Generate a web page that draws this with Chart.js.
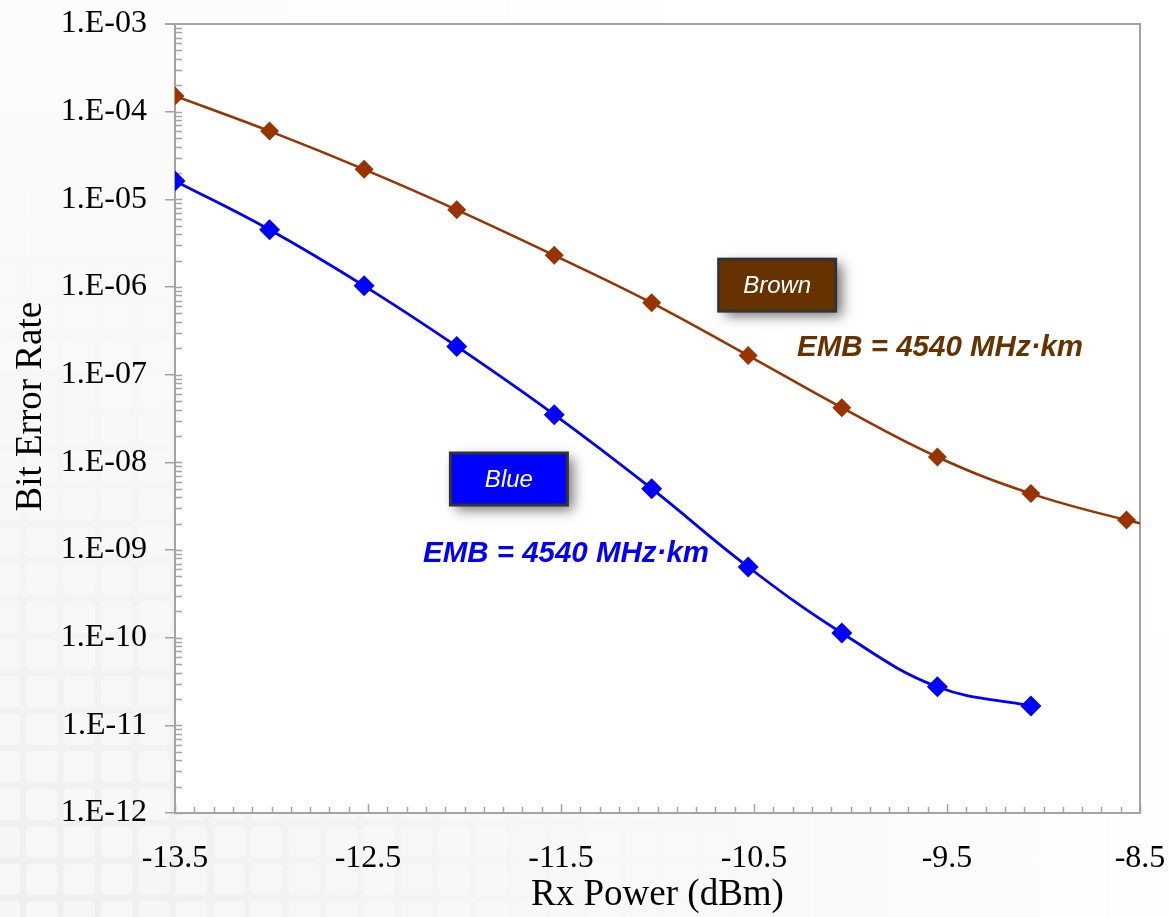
<!DOCTYPE html>
<html>
<head>
<meta charset="utf-8">
<title>Bit Error Rate vs Rx Power</title>
<script src="https://cdn.jsdelivr.net/npm/chart.js@4.4.1/dist/chart.umd.min.js"></script>
<style>
  html, body { margin: 0; padding: 0; background: #fff; }
  #wrap { width: 1169px; height: 917px; position: relative; }
</style>
</head>
<body>
<div id="wrap"><canvas id="berChart"></canvas></div>
<script>
// received power at each measurement step (dBm)
const rxPower = [-13.5, -13.01, -12.52, -12.04, -11.535, -11.03, -10.53, -10.045, -9.55, -9.065, -8.57, -8.09];

// bit error rates, brown and blue fibre
const berBrown = [1.51e-4, 6.0e-5, 2.2e-5, 7.6e-6, 2.3e-6, 6.6e-7, 1.65e-7, 4.2e-8, 1.15e-8, 4.4e-9, 2.2e-9, 1.3e-9];
const berBlue = [1.62e-5, 4.5e-6, 1.03e-6, 2.1e-7, 3.5e-8, 5.0e-9, 6.4e-10, 1.13e-10, 2.75e-11, 1.66e-11];

const xTickValues = [-13.5, -12.5, -11.5, -10.5, -9.5, -8.5];
const yTickExponents = [-12, -11, -10, -9, -8, -7, -6, -5, -4, -3];

const fiberNames = ['Brown', 'Blue'];
const embText = ['EMB = 4540 MHz\u00B7km', 'EMB = 4540 MHz\u00B7km'];
const yTitle = 'Bit Error Rate';

const SERIF = "'Liberation Serif', 'Times New Roman', serif";
const SANS = "'Liberation Sans', Arial, sans-serif";
const AXIS_GREY = '#a3a3a3';

function toPoints(ys) {
    return ys.map((y, i) => ({ x: rxPower[i], y: y }));
}

function expLabel(v) {
    const e = Math.round(Math.log10(v));
    const n = Math.abs(e);
    return '1.E' + (e < 0 ? '-' : '+') + (n < 10 ? '0' + n : n);
}

// faint tiled paper behind the plot, fading out towards the top right
const paperBackground = {
    id: 'paperBackground',
    beforeDraw(chart) {
        const { ctx, width, height, chartArea } = chart;
        ctx.save();
        ctx.fillStyle = '#ffffff';
        ctx.fillRect(0, 0, width, height);
        const cell = 37.5;
        const ox = 23 - cell, oy = 35.5 - cell;
        for (let x = ox; x < width; x += cell) {
            for (let y = oy; y < height; y += cell) {
                const dx = (x + cell / 2) / width;
                const dy = 1 - (y + cell / 2) / height;
                const f = Math.max(0, 1 - Math.sqrt(dx * dx * 0.9 + dy * dy * 0.7));
                if (f <= 0) continue;
                ctx.fillStyle = 'rgba(0,0,0,' + (0.065 * f).toFixed(3) + ')';
                ctx.fillRect(x, y, cell, cell);
                ctx.fillStyle = 'rgba(255,255,255,' + (0.5 * f).toFixed(3) + ')';
                ctx.beginPath();
                ctx.roundRect(x + 3, y + 3, cell - 6, cell - 6, 5);
                ctx.fill();
            }
        }
        ctx.fillStyle = '#ffffff';
        ctx.fillRect(chartArea.left, chartArea.top, chartArea.right - chartArea.left, chartArea.bottom - chartArea.top);
        ctx.restore();
    }
};

// frame on top/right, the small inward tick marks and the y title
const axisFrame = {
    id: 'axisFrame',
    beforeDatasetsDraw(chart) {
        const { ctx, chartArea, scales } = chart;
        const xs = scales.x, ys = scales.y;
        ctx.save();
        ctx.strokeStyle = AXIS_GREY;
        ctx.lineWidth = 2;
        ctx.beginPath();
        ctx.moveTo(chartArea.left - 10, chartArea.top);
        ctx.lineTo(chartArea.right, chartArea.top);
        ctx.lineTo(chartArea.right, chartArea.bottom);
        ctx.stroke();

        ctx.lineWidth = 1.5;
        ctx.beginPath();
        for (let e = -12; e < -3; e++) {
            for (let m = 1; m <= 9; m++) {
                const py = Math.round(ys.getPixelForValue(m * Math.pow(10, e))) + 0.5;
                ctx.moveTo(chartArea.left, py);
                ctx.lineTo(chartArea.left + 7, py);
            }
        }
        for (let k = 0; k <= 50; k++) {
            const v = -13.5 + k * 0.1;
            const px = Math.round(xs.getPixelForValue(v)) + 0.5;
            const len = k % 10 === 0 ? 9 : 6;
            ctx.moveTo(px, chartArea.bottom);
            ctx.lineTo(px, chartArea.bottom - len);
        }
        ctx.stroke();

        // vertical axis title, sitting a little above the middle
        ctx.translate(31, chartArea.top + (chartArea.bottom - chartArea.top) * 0.485);
        ctx.rotate(-Math.PI / 2);
        ctx.fillStyle = '#000';
        ctx.font = '37px ' + SERIF;
        ctx.textAlign = 'center';
        ctx.textBaseline = 'middle';
        ctx.fillText(yTitle, 0, 0);
        ctx.restore();
    }
};

// fibre colour tags and EMB notes, anchored in data coordinates
const fiberTags = {
    id: 'fiberTags',
    afterDraw(chart) {
        const { ctx, scales } = chart;
        const tags = [
            { name: fiberNames[0], fill: '#663300', cx: -10.38, cy: 1.05e-6, ex: -9.536, ey: 2.07e-7, textColor: '#663300' },
            { name: fiberNames[1], fill: '#0000ff', cx: -11.77, cy: 6.45e-9, ex: -11.474, ey: 9.25e-10, textColor: '#0000ff' }
        ];
        tags.forEach((t, i) => {
            const bx = scales.x.getPixelForValue(t.cx);
            const by = scales.y.getPixelForValue(t.cy);
            const w = 117, h = 52;
            ctx.save();
            ctx.shadowColor = 'rgba(0,0,0,0.55)';
            ctx.shadowBlur = 12;
            ctx.shadowOffsetX = 6;
            ctx.shadowOffsetY = 5;
            ctx.fillStyle = t.fill;
            ctx.fillRect(bx - w / 2, by - h / 2, w, h);
            ctx.restore();

            ctx.save();
            ctx.strokeStyle = '#333333';
            ctx.lineWidth = 3;
            ctx.strokeRect(bx - w / 2, by - h / 2, w, h);
            ctx.fillStyle = '#ffffff';
            ctx.font = 'italic 24px ' + SANS;
            ctx.textAlign = 'center';
            ctx.textBaseline = 'middle';
            ctx.fillText(t.name, bx, by + 1);

            const ex = scales.x.getPixelForValue(t.ex);
            const ey = scales.y.getPixelForValue(t.ey);
            ctx.fillStyle = t.textColor;
            ctx.font = 'italic bold 29.5px ' + SANS;
            ctx.fillText(embText[i], ex, ey + 1);
            ctx.restore();
        });
    }
};

new Chart(document.getElementById('berChart'), {
    type: 'line',
    data: {
        datasets: [
            {
                label: fiberNames[0],
                data: toPoints(berBrown),
                borderColor: '#993300',
                backgroundColor: '#993300',
                borderWidth: 2.5,
                pointStyle: 'rectRot',
                pointRadius: 9.5,
                pointBorderWidth: 0,
                tension: 0.4
            },
            {
                label: fiberNames[1],
                data: toPoints(berBlue),
                borderColor: '#0000ff',
                backgroundColor: '#0000ff',
                borderWidth: 2.8,
                pointStyle: 'rectRot',
                pointRadius: 10.5,
                pointBorderWidth: 0,
                tension: 0.4
            }
        ]
    },
    options: {
        responsive: true,
        maintainAspectRatio: false,
        animation: false,
        layout: { padding: { top: 24, right: 29, left: 0, bottom: 0 } },
        plugins: {
            legend: { display: false },
            tooltip: { enabled: false }
        },
        scales: {
            x: {
                type: 'linear',
                min: -13.5,
                max: -8.5,
                afterBuildTicks: (scale) => { scale.ticks = xTickValues.map(v => ({ value: v })); },
                afterFit: (scale) => {
                    scale.height = 104;
                    scale.paddingLeft = 0;
                    scale.paddingRight = 0;
                },
                grid: { drawOnChartArea: false, drawTicks: false },
                border: { color: AXIS_GREY, width: 2 },
                ticks: {
                    color: '#000',
                    padding: 26,
                    font: { family: SERIF, size: 32 },
                    callback: (v) => String(v)
                },
                title: {
                    display: true,
                    text: 'Rx Power (dBm)',
                    color: '#000',
                    font: { family: SERIF, size: 37 },
                    padding: { top: 0, bottom: 0 }
                }
            },
            y: {
                type: 'logarithmic',
                min: 1e-12,
                max: 1e-3,
                afterBuildTicks: (scale) => { scale.ticks = yTickExponents.map(e => ({ value: Math.pow(10, e) })); },
                afterFit: (scale) => {
                    scale.width = 175;
                    scale.paddingTop = 0;
                    scale.paddingBottom = 0;
                },
                grid: { drawOnChartArea: false, drawTicks: true, tickLength: 10, color: AXIS_GREY, lineWidth: 1.5 },
                border: { color: AXIS_GREY, width: 2 },
                ticks: {
                    color: '#000',
                    padding: 18,
                    font: { family: SERIF, size: 32 },
                    callback: (v) => expLabel(v)
                },
                title: { display: false }
            }
        }
    },
    plugins: [paperBackground, axisFrame, fiberTags]
});
</script>
</body>
</html>
